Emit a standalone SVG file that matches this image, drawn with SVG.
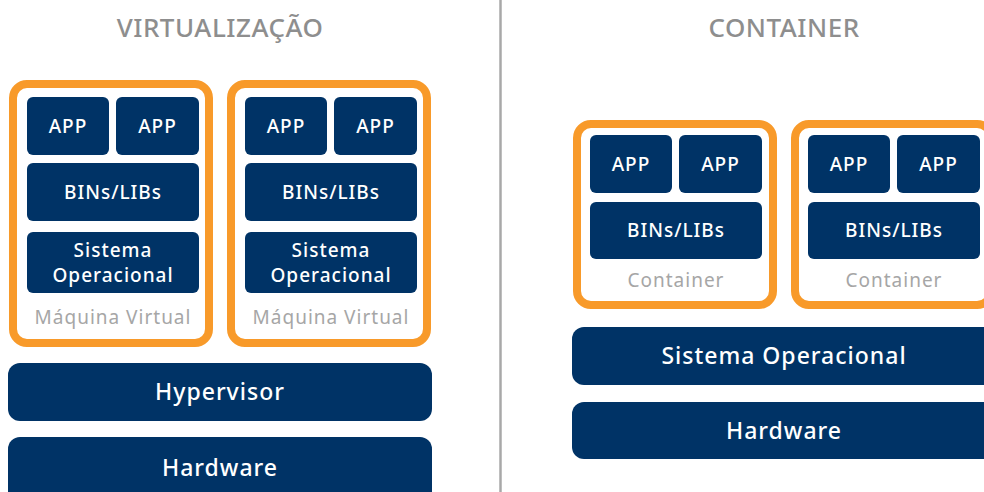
<svg xmlns="http://www.w3.org/2000/svg" width="984" height="492" viewBox="0 0 984 492">
  <style>
    .title { font-family: "Noto Sans", "Liberation Sans", sans-serif; font-size: 26px; font-weight: 500; fill: #8e8e8e; text-anchor: middle; letter-spacing: 0.5px; }
    .frame { fill: #ffffff; stroke: #f89a2a; stroke-width: 8; }
    .block { fill: #003366; }
    .lbl { font-family: "Noto Sans", "Liberation Sans", sans-serif; font-size: 19px; font-weight: 500; fill: #ffffff; text-anchor: middle; letter-spacing: 1px; }
    .big { font-size: 23px; }
    .cap { font-family: "Noto Sans", "Liberation Sans", sans-serif; font-size: 19px; fill: #a6a6a6; text-anchor: middle; letter-spacing: 1px; }
    .divider { stroke: #a8a8a8; stroke-width: 2.5; }
  </style>

  <rect width="984" height="492" fill="#ffffff"/>

  <!-- section titles -->
  <text class="title" x="220" y="37">VIRTUALIZAÇÃO</text>
  <text class="title" x="784" y="37">CONTAINER</text>

  <!-- separator between sections -->
  <g id="connectors">
    <line class="divider" x1="500.5" y1="0" x2="500.5" y2="492"/>
  </g>

  <!-- virtual machine 1 -->
  <g id="vm1">
    <rect class="frame" x="13" y="84" width="196" height="259" rx="14"/>
    <rect class="block" x="27" y="97" width="82" height="58" rx="6"/>
    <text class="lbl" x="68" y="133">APP</text>
    <rect class="block" x="116" y="97" width="83" height="58" rx="6"/>
    <text class="lbl" x="157.5" y="133">APP</text>
    <rect class="block" x="27" y="163" width="172" height="58" rx="6"/>
    <text class="lbl" x="113" y="199">BINs/LIBs</text>
    <rect class="block" x="27" y="232" width="172" height="61" rx="6"/>
    <text class="lbl" x="113" y="257">Sistema</text>
    <text class="lbl" x="113" y="282">Operacional</text>
    <text class="cap" x="113" y="324">Máquina Virtual</text>
  </g>

  <!-- virtual machine 2 -->
  <g id="vm2" transform="translate(218,0)">
    <rect class="frame" x="13" y="84" width="196" height="259" rx="14"/>
    <rect class="block" x="27" y="97" width="82" height="58" rx="6"/>
    <text class="lbl" x="68" y="133">APP</text>
    <rect class="block" x="116" y="97" width="83" height="58" rx="6"/>
    <text class="lbl" x="157.5" y="133">APP</text>
    <rect class="block" x="27" y="163" width="172" height="58" rx="6"/>
    <text class="lbl" x="113" y="199">BINs/LIBs</text>
    <rect class="block" x="27" y="232" width="172" height="61" rx="6"/>
    <text class="lbl" x="113" y="257">Sistema</text>
    <text class="lbl" x="113" y="282">Operacional</text>
    <text class="cap" x="113" y="324">Máquina Virtual</text>
  </g>

  <g id="hypervisor">
    <rect class="block" x="8" y="363" width="424" height="58" rx="12"/>
    <text class="lbl big" x="220" y="400">Hypervisor</text>
  </g>

  <g id="hardware-vm">
    <rect class="block" x="8" y="437" width="424" height="70" rx="12"/>
    <text class="lbl big" x="220" y="476">Hardware</text>
  </g>

  <!-- container 1 -->
  <g id="container1">
    <rect class="frame" x="577" y="124" width="196" height="181" rx="14"/>
    <rect class="block" x="590" y="135" width="82" height="58" rx="6"/>
    <text class="lbl" x="631" y="171">APP</text>
    <rect class="block" x="679" y="135" width="83" height="58" rx="6"/>
    <text class="lbl" x="720.5" y="171">APP</text>
    <rect class="block" x="590" y="202" width="172" height="57" rx="6"/>
    <text class="lbl" x="676" y="237">BINs/LIBs</text>
    <text class="cap" x="676" y="287">Container</text>
  </g>

  <!-- container 2 -->
  <g id="container2" transform="translate(218,0)">
    <rect class="frame" x="577" y="124" width="196" height="181" rx="14"/>
    <rect class="block" x="590" y="135" width="82" height="58" rx="6"/>
    <text class="lbl" x="631" y="171">APP</text>
    <rect class="block" x="679" y="135" width="83" height="58" rx="6"/>
    <text class="lbl" x="720.5" y="171">APP</text>
    <rect class="block" x="590" y="202" width="172" height="57" rx="6"/>
    <text class="lbl" x="676" y="237">BINs/LIBs</text>
    <text class="cap" x="676" y="287">Container</text>
  </g>

  <g id="host-os">
    <rect class="block" x="572" y="327" width="424" height="58" rx="12"/>
    <text class="lbl big" x="784" y="364">Sistema Operacional</text>
  </g>

  <g id="hardware-container">
    <rect class="block" x="572" y="402" width="424" height="57" rx="12"/>
    <text class="lbl big" x="784" y="439">Hardware</text>
  </g>
</svg>
